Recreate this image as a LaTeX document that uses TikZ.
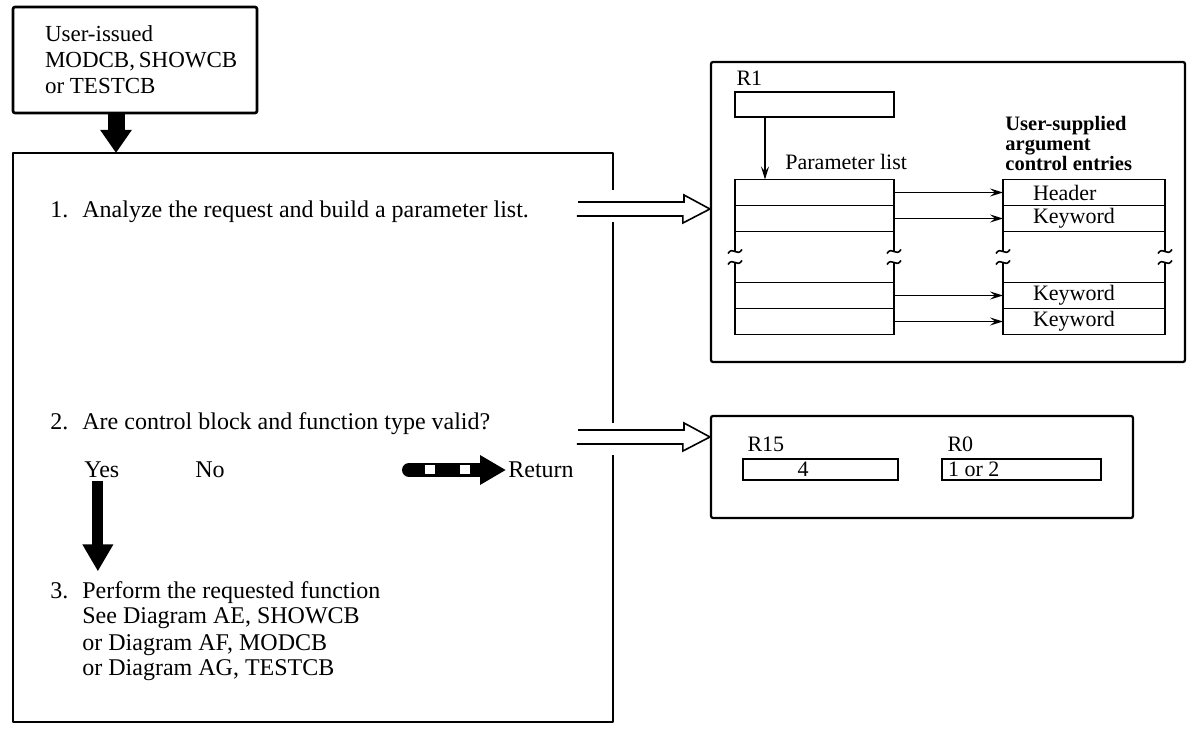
\documentclass[tikz,border=0pt]{standalone}
\usepackage{fontspec}
\setmainfont{Liberation Serif}
\usetikzlibrary{arrows.meta,positioning,calc}
\tikzset{
  frame/.style  ={draw, line width=1.3pt, line join=round},
  box/.style    ={draw, line width=1.1pt, rounded corners=1pt, inner sep=0pt},
  rowbox/.style ={draw, line width=0.9pt, minimum width=79.5pt,
                  minimum height=13pt, inner sep=0pt, outer sep=0pt},
  entrow/.style ={rowbox, minimum width=81pt, text width=81pt, align=flush left,
                  font=\fontsize{11}{13}\selectfont,
                  execute at begin node=\hspace*{15pt}},
  regbox/.style ={draw, line width=0.9pt, minimum height=10.5pt,
                  inner sep=0pt, font=\fontsize{11}{13}\selectfont},
  lbl/.style    ={inner sep=1pt, font=\fontsize{11}{13}\selectfont},
  steptext/.style={inner sep=1pt, font=\fontsize{12}{13}\selectfont},
  blbl/.style   ={inner sep=1pt, align=left,
                  font=\fontsize{10.25}{10}\selectfont\bfseries},
  edge/.style   ={line width=0.9pt},
  arr/.style    ={-{Stealth[length=6.5pt,width=4pt,inset=2.5pt]}, line width=0.8pt},
  fatarr/.style ={line width=8.5pt, -{Triangle[length=11.5pt,width=15pt]}},
  yesarr/.style ={line width=5.5pt, -{Triangle[length=13.5pt,width=14.5pt]}},
  retarr/.style ={line width=7pt, line cap=round,
                  -{Triangle[length=13pt,width=14pt]},
                  postaction={draw=white, -, line cap=butt, line width=4.5pt,
                    dash pattern=on 0pt off 8pt on 5pt off 12.5pt on 5pt off 200pt}},
  hollow/.style ={line width=0.8pt, line join=miter},
  brk/.pic      ={\draw[line width=0.8pt] (-7,2) .. controls (-2,-6) and (2,6) .. (7,-2);},
}
\begin{document}
\begin{tikzpicture}[x=0.5pt,y=-0.5pt]
  \useasboundingbox (0,0) rectangle (1199,731);
  % the request
  \node[box, line width=1.3pt, minimum width=122pt, minimum height=53pt,
        text width=90pt, inner xsep=16pt, align=flush left,
        font=\fontsize{11.5}{13}\selectfont] (user) at (135,60)
    {User-issued\\MODCB,~SHOWCB\\or TESTCB};
  % main box, right side left open for the two outgoing arrows
  \coordinate (mnw) at (13,153);
  \coordinate (mse) at (613,722);
  \draw[frame] (613,190) |- (mnw) |- (mse) -- (613,455);
  \draw[frame] (613,423) -- (613,222);
  \draw[fatarr] ([xshift=-9.5pt]user.south) -- ([xshift=-9.5pt]user.south |- mnw);
  % steps
  \node[steptext, anchor=base west] (s1) at (48,218)
    {\makebox[16pt][l]{1.}Analyze the request and build a parameter list.};
  \node[steptext, anchor=base west] (s2) at (48,430)
    {\makebox[16pt][l]{2.}Are control block and function type valid?};
  \node[steptext, anchor=base west] (yes) at (82,478) {Yes};
  \node[steptext, anchor=base west] (no) at (193,478) {No};
  \node[steptext, anchor=base west] (s3) at (48,598)
    {\begin{tabular}[t]{@{}p{16pt}@{}l@{}}
       3.&Perform the requested function\\
       &See Diagram AE, SHOWCB\\
       &or Diagram AF, MODCB\\
       &or Diagram AG, TESTCB
     \end{tabular}};
  \draw[yesarr, shorten >=3pt] ([xshift=-2pt]yes.south) -- ([xshift=-2pt]yes.south |- s3.north);
  \node[steptext, anchor=base west] (ret) at (506,478) {Return};
  \coordinate (rs) at (409,470);
  \draw[retarr] (rs) -- (ret.west |- rs);
  % register and parameter list
  \node[box, minimum width=237pt, minimum height=150pt] (rb1) at (948,212) {};
  \node[regbox, minimum width=79.5pt, minimum height=12.5pt] (r1) at (814.5,104.5) {};
  \node[lbl, anchor=south west] (r1name) at ([yshift=1.5pt]r1.north west) {R1};
  \node[rowbox] (p1) at (814.5,192.5) {};
  \node[rowbox, below=0pt of p1] (p2) {};
  \node[rowbox] (p4) at (814.5,295.5) {};
  \node[rowbox, below=0pt of p4] (p5) {};
  \node[lbl, anchor=base west] (plname) at (783,170) {Parameter list};
  \draw[arr] ([xshift=-24.75pt]r1.south) -- ([xshift=-24.75pt]r1.south |- p1.north);
  \node[entrow] (e1) at (1084,192.5) {Header};
  \node[entrow, below=0pt of e1] (e2) {Keyword};
  \node[entrow] (e4) at (1084,295.5) {Keyword};
  \node[entrow, below=0pt of e4] (e5) {Keyword};
  \node[blbl, anchor=south west] (usr) at ([yshift=3pt]e1.north west)
    {User-supplied\\argument\\control entries};
  \foreach \a/\b in {p2/p4,e2/e4} {
    \draw[edge] (\a.south west) -- ++(0,20) pic {brk};
    \draw[edge] (\b.north west) -- ++(0,-20) pic {brk};
    \draw[edge] (\a.south east) -- ++(0,20) pic {brk};
    \draw[edge] (\b.north east) -- ++(0,-20) pic {brk};
  }
  \foreach \i in {1,2,4,5}
    \draw[arr] (p\i.east) -- (e\i.west);
  % return registers
  \node[box, minimum width=211pt, minimum height=51pt] (rb2) at (922,467) {};
  \node[regbox, minimum width=77.5pt] (r15) at (820.5,469.5) {4\hspace*{17.5pt}};
  \node[regbox, minimum width=79.5pt, text width=73.5pt, inner xsep=3pt,
        align=flush left] (r0) at (1021.5,469.5) {1 or 2};
  \node[lbl, anchor=south west] (r15name) at ([shift={(1.5pt,2pt)}]r15.north west) {R15};
  \node[lbl, anchor=south west] (r0name) at ([shift={(2pt,2pt)}]r0.north west) {R0};
  % hollow arrows out of the main box
  \coordinate (q1) at (578,209);
  \coordinate (q2) at (578,437);
  \draw[hollow] (q1) ++(0,-7) -- ++(106,0) -- ++(0,-7) -- (rb1.west |- q1)
    -- ++(-27,14) -- ++(0,-7) -- ++(-106,0);
  \draw[hollow] (q2) ++(0,-7) -- ++(106,0) -- ++(0,-7) -- (rb2.west |- q2)
    -- ++(-27,14) -- ++(0,-7) -- ++(-106,0);
\end{tikzpicture}
\end{document}
